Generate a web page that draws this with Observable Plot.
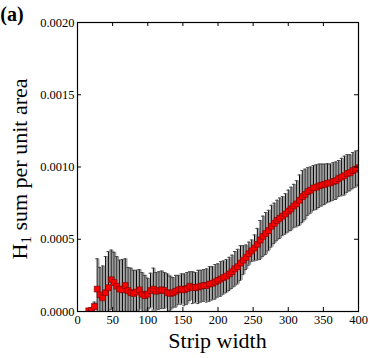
<!DOCTYPE html>
<html>
<head>
<meta charset="utf-8">
<script src="https://cdn.jsdelivr.net/npm/d3@7"></script>
<script src="https://cdn.jsdelivr.net/npm/@observablehq/plot@0.6"></script>
<style>
  html, body { margin: 0; padding: 0; background: #fff; }
  svg text { font-family: "Liberation Serif", "DejaVu Serif", serif !important; }
</style>
</head>
<body>
<div id="chart"></div>
<script>
// Strip widths (x)
const widths = [16,20,24,28,32,36,40,44,48,52,56,60,64,68,72,76,80,84,88,92,96,100,
  104,108,112,116,120,124,128,132,136,140,144,148,152,156,160,164,168,172,176,180,
  184,188,192,196,200,204,208,212,216,220,224,228,232,236,240,244,248,252,256,260,
  264,268,272,276,280,284,288,292,296,300,304,308,312,316,320,324,328,332,336,340,
  344,348,352,356,360,364,368,372,376,380,384,388,392,396,400];

// H1 sum per unit area (mean)
const h1Sum = [0.05e-4,0.08e-4,0.35e-4,1.55e-4,1.15e-4,0.95e-4,1.3e-4,1.65e-4,2.2e-4,2.0e-4,
  1.75e-4,1.55e-4,1.5e-4,1.8e-4,1.45e-4,1.3e-4,1.25e-4,1.35e-4,1.5e-4,1.2e-4,1.1e-4,1.2e-4,
  1.45e-4,1.55e-4,1.4e-4,1.45e-4,1.5e-4,1.45e-4,1.3e-4,1.25e-4,1.3e-4,1.4e-4,1.5e-4,1.55e-4,
  1.5e-4,1.6e-4,1.75e-4,1.65e-4,1.65e-4,1.7e-4,1.75e-4,1.8e-4,1.8e-4,1.9e-4,1.95e-4,2.05e-4,
  2.15e-4,2.25e-4,2.35e-4,2.45e-4,2.6e-4,2.75e-4,2.95e-4,3.1e-4,3.35e-4,3.55e-4,3.75e-4,4.0e-4,
  4.2e-4,4.4e-4,4.65e-4,4.95e-4,5.2e-4,5.4e-4,5.6e-4,5.9e-4,6.1e-4,6.3e-4,6.45e-4,6.6e-4,
  6.75e-4,6.95e-4,7.1e-4,7.3e-4,7.45e-4,7.7e-4,7.95e-4,8.1e-4,8.3e-4,8.4e-4,8.55e-4,8.6e-4,
  8.7e-4,8.75e-4,8.8e-4,8.88e-4,8.9e-4,9.0e-4,9.05e-4,9.2e-4,9.3e-4,9.4e-4,9.55e-4,9.6e-4,
  9.75e-4,9.85e-4,9.95e-4];

// Error (half-length of error bars)
const h1Err = [0.02e-4,0.03e-4,0.3e-4,2.1e-4,1.9e-4,2.2e-4,2.5e-4,2.5e-4,2.05e-4,2.1e-4,
  2.05e-4,2.0e-4,2.1e-4,1.85e-4,1.6e-4,1.7e-4,1.6e-4,1.5e-4,1.4e-4,1.5e-4,1.4e-4,1.1e-4,
  1.2e-4,1.45e-4,1.3e-4,1.3e-4,1.3e-4,1.25e-4,1.3e-4,1.2e-4,1.05e-4,1.1e-4,1.0e-4,1.05e-4,
  1.1e-4,1.1e-4,1.0e-4,1.1e-4,1.05e-4,1.15e-4,1.1e-4,1.1e-4,1.15e-4,1.2e-4,1.15e-4,1.2e-4,
  1.15e-4,1.2e-4,1.15e-4,1.15e-4,1.15e-4,1.15e-4,1.2e-4,1.2e-4,1.2e-4,1.0e-4,0.85e-4,0.8e-4,
  0.75e-4,0.9e-4,1.1e-4,1.35e-4,1.4e-4,1.45e-4,1.4e-4,1.45e-4,1.4e-4,1.4e-4,1.4e-4,1.35e-4,
  1.4e-4,1.45e-4,1.5e-4,1.5e-4,1.6e-4,1.75e-4,1.8e-4,1.75e-4,1.65e-4,1.6e-4,1.55e-4,1.55e-4,
  1.5e-4,1.45e-4,1.4e-4,1.35e-4,1.3e-4,1.3e-4,1.3e-4,1.25e-4,1.3e-4,1.35e-4,1.3e-4,1.25e-4,
  1.25e-4,1.25e-4,1.2e-4];

const xTicks = [0,50,100,150,200,250,300,350,400];
const yTicks = [0,0.0005,0.0010,0.0015,0.0020];

const data = widths.map((w, i) => ({w, m: h1Sum[i], e: h1Err[i]}));

const W = 373, H = 358, mL = 77, mR = 15, mT = 22, mB = 47;
const innerW = W - mL - mR, innerH = H - mT - mB;
const FONT = "Liberation Serif, DejaVu Serif, serif";

const chart = Plot.plot({
  width: W, height: H,
  marginLeft: mL, marginRight: mR, marginTop: mT, marginBottom: mB,
  style: {fontFamily: FONT, fontSize: "12.5px", background: "white", color: "black"},
  x: {domain: [0, 400]},
  y: {domain: [0, 0.002]},
  marks: [
    Plot.ruleX(data, {x: "w", y1: d => d.m - d.e, y2: d => d.m + d.e, stroke: "#999", strokeWidth: 1.5, dx: 1.5, clip: true}),
    Plot.ruleX(data, {x: "w", y1: d => d.m - d.e, y2: d => d.m + d.e, stroke: "black", strokeWidth: 1, clip: true}),
    Plot.ruleY(data, {y: d => d.m + d.e, x1: d => d.w - 2, x2: d => d.w + 2, stroke: "#444", strokeWidth: 1, clip: true}),
    Plot.ruleY(data, {y: d => d.m - d.e, x1: d => d.w - 2, x2: d => d.w + 2, stroke: "#444", strokeWidth: 1, clip: true}),
    Plot.dot(data, {x: "w", y: "m", symbol: "square", r: 3.3, fill: "#ff0000", stroke: "#6a0000", strokeWidth: 0.6, clip: true}),
    Plot.frame({stroke: "black", strokeWidth: 1.2}),
    Plot.ruleX(xTicks, {insetTop: innerH - 4, stroke: "black"}),
    Plot.ruleX(xTicks, {insetBottom: innerH - 4, stroke: "black"}),
    Plot.ruleY(yTicks, {insetRight: innerW - 4, stroke: "black"}),
    Plot.ruleY(yTicks, {insetLeft: innerW - 4, stroke: "black"}),
    Plot.axisX({ticks: xTicks, tickSize: 0, tickPadding: 4, label: null, fontFamily: FONT, fontSize: 12.5, tickFormat: d => String(d)}),
    Plot.axisY({ticks: yTicks, tickSize: 0, tickPadding: 3, label: null, fontFamily: FONT, fontSize: 12.5, tickFormat: d3.format(".4f")})
  ]
});

document.getElementById("chart").appendChild(chart);

const svg = d3.select(chart);
svg.append("text")
  .attr("x", 12).attr("y", 21)
  .style("font-family", FONT).attr("font-weight", "bold").attr("font-size", 20)
  .attr("fill", "black")
  .text("(a)");

svg.append("text")
  .attr("x", mL + innerW / 2).attr("y", 348)
  .attr("text-anchor", "middle")
  .style("font-family", FONT).attr("font-size", 22)
  .attr("fill", "black")
  .text("Strip width");

const yl = svg.append("text")
  .attr("transform", "translate(27,169) rotate(-90)")
  .attr("text-anchor", "middle")
  .style("font-family", FONT).attr("font-size", 22)
  .attr("fill", "black");
yl.append("tspan").text("H");
yl.append("tspan").attr("font-size", 15).attr("dy", 4).text("1");
yl.append("tspan").attr("dy", -4).text(" sum per unit area");
</script>
</body>
</html>
